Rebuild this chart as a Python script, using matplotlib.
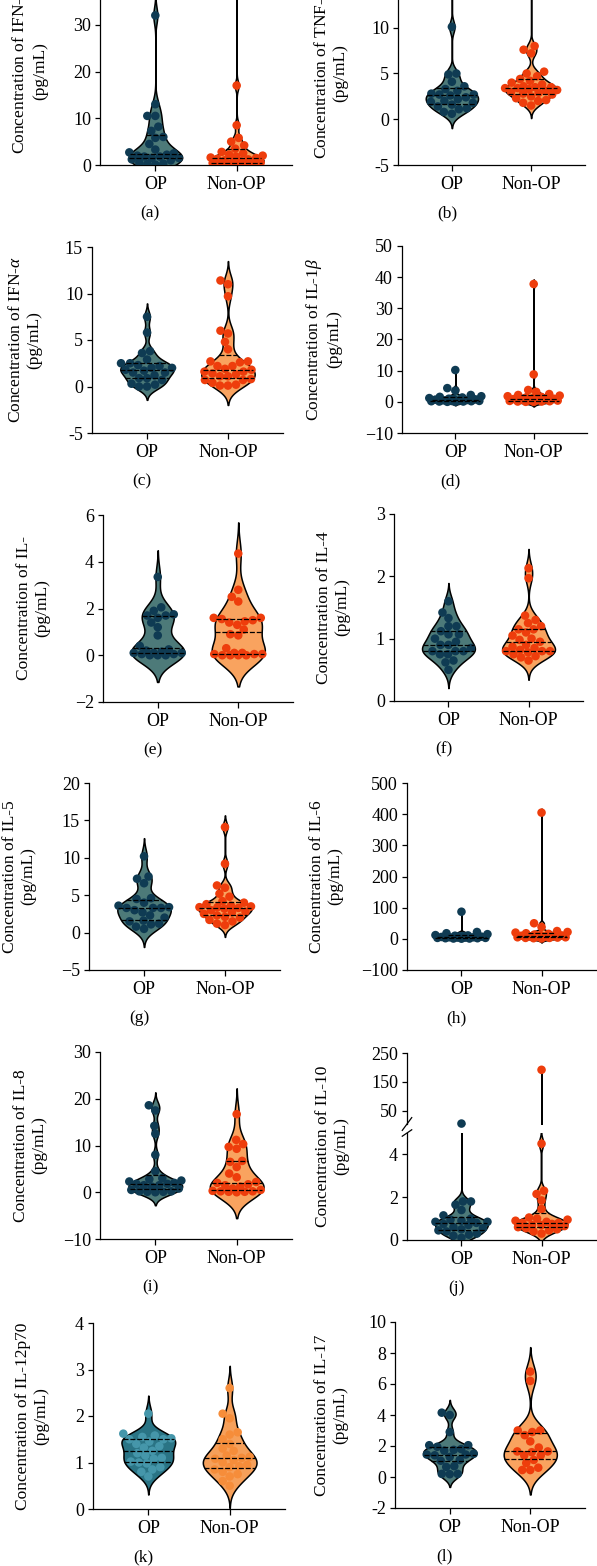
import matplotlib
matplotlib.use('Agg')
import matplotlib.pyplot as plt
import numpy as np

plt.rcParams['font.family'] = 'Liberation Serif'
plt.rcParams['mathtext.fontset'] = 'custom'
plt.rcParams['mathtext.rm'] = 'Liberation Serif'
plt.rcParams['mathtext.it'] = 'Liberation Serif:italic'
plt.rcParams['font.size'] = 13

groups = ['OP', 'Non-OP']

# values (pg/mL)
ifng_op = [32, 13, 10.5, 10.5, 8.2, 7.3, 6.0, 5.8, 4.5, 3.3, 2.7, 2.5, 2.2, 2.0, 1.8, 1.8,
           1.5, 1.5, 1.2, 1.0, 0.5, 0.3, 0.2, 0.1]
ifng_non = [80, 17, 8.5, 5.8, 5.0, 4.2, 3.5, 2.8, 2.5, 2.2, 2.0, 1.8, 1.6, 1.5, 1.3, 1.2,
            1.0, 0.8, 0.6, 0.5, 0.4, 0.3, 0.2, 0.1, 0.1, 0.05]
tnfa_op = [30, 10.1, 5.0, 4.9, 4.1, 3.6, 3.3, 3.1, 2.8, 2.7, 2.7, 2.6, 2.4, 2.2, 2.0, 1.9,
           1.8, 1.6, 1.4, 1.2, 1.1, 0.8, 0.6]
tnfa_non = [25, 8.0, 7.6, 7.2, 5.2, 5.0, 4.7, 4.4, 4.2, 4.0, 3.8, 3.6, 3.5, 3.5, 3.4, 3.4,
            3.3, 3.2, 3.1, 3.0, 2.9, 2.8, 2.7, 2.5, 2.3, 2.1, 2.0, 1.8, 1.5]
ifna_op = [7.5, 5.8, 3.8, 3.6, 2.9, 2.5, 2.5, 2.3, 2.2, 2.0, 2.0, 1.8, 1.7, 1.5, 1.5, 1.2,
           0.9, 0.9, 0.7, 0.3, 0.2, 0.0, 0.0]
ifna_non = [11.4, 11.0, 9.7, 6.0, 5.7, 4.8, 4.0, 2.7, 2.7, 2.6, 2.2, 2.2, 1.9, 1.8, 1.6, 1.6,
            1.4, 1.3, 1.1, 1.1, 0.8, 0.7, 0.7, 0.4, 0.2, 0.1, 0.1]
il1b_op = [10.2, 4.4, 3.6, 2.2, 1.8, 1.6, 1.4, 1.2, 1.0, 0.9, 0.8, 0.7, 0.6, 0.5, 0.4, 0.3,
           0.3, 0.2, 0.2, 0.1, 0.1, 0.0, 0.0]
il1b_non = [37.8, 8.8, 3.8, 3.2, 2.5, 2.2, 2.0, 1.8, 1.6, 1.4, 1.2, 1.0, 0.9, 0.8, 0.7, 0.6,
            0.5, 0.4, 0.3, 0.2, 0.1, 0.1, 0.0, 0.0]
il2_op = [3.35, 2.05, 1.9, 1.75, 1.7, 1.7, 1.6, 1.4, 1.2, 0.85, 0.4, 0.25, 0.2, 0.15, 0.1,
          0.1, 0.1, 0.05, 0.05, 0.0, 0.0, 0.0]
il2_non = [4.35, 2.8, 2.5, 2.3, 1.6, 1.6, 1.55, 1.5, 1.45, 1.4, 1.3, 1.1, 0.9, 0.85, 0.3,
           0.1, 0.1, 0.05, 0.05, 0.05, 0.0, 0.0, 0.0, 0.0]
il4_op = [1.6, 1.42, 1.33, 1.2, 1.2, 1.12, 1.07, 1.07, 1.0, 0.95, 0.9, 0.9, 0.85, 0.8, 0.8,
          0.8, 0.75, 0.75, 0.65, 0.62, 0.5]
il4_non = [2.13, 1.97, 1.37, 1.3, 1.25, 1.2, 1.15, 1.15, 1.1, 1.05, 1.0, 0.98, 0.95, 0.9,
           0.87, 0.85, 0.82, 0.8, 0.8, 0.8, 0.78, 0.75, 0.72, 0.7, 0.65]
il5_op = [10.2, 7.5, 7.2, 6.6, 4.6, 4.5, 4.0, 3.6, 3.4, 3.3, 3.3, 3.3, 3.0, 2.7, 2.3, 2.0,
          1.6, 1.5, 1.2, 1.1, 0.8, 0.5]
il5_non = [14.1, 9.2, 6.3, 6.0, 5.2, 4.8, 4.2, 4.0, 3.8, 3.6, 3.5, 3.4, 3.4, 3.3, 3.2, 3.0,
           2.8, 2.7, 2.5, 2.3, 2.1, 2.0, 1.7, 1.5, 1.2, 1.0]
il6_op = [87, 22, 18, 15, 12, 11, 10, 9, 8, 7, 6, 5, 5, 4, 4, 3, 3, 2, 2, 1, 1, 0.5]
il6_non = [405, 50, 38, 25, 22, 20, 18, 16, 14, 12, 11, 10, 9, 8, 7, 6, 5, 5, 4, 3, 3, 2, 1]
il8_op = [18.6, 17.5, 14.2, 12.5, 8.0, 4.5, 3.0, 2.8, 2.5, 2.3, 2.0, 1.8, 1.8, 1.5, 1.5,
          1.2, 0.8, 0.5, 0.2, 0.2, 0.1, 0.1, 0.0]
il8_non = [16.7, 11.2, 10.3, 9.7, 9.3, 6.7, 6.5, 5.4, 4.0, 3.2, 2.2, 2.0, 1.7, 1.5, 1.2,
           0.8, 0.5, 0.3, 0.2, 0.2, 0.1, 0.1, 0.0]
il10_op = [6.5, 1.8, 1.8, 1.65, 1.4, 1.15, 1.0, 0.95, 0.9, 0.85, 0.85, 0.8, 0.75, 0.7, 0.6,
           0.55, 0.5, 0.45, 0.4, 0.3, 0.25, 0.2, 0.1]
il10_non = [192, 4.5, 2.3, 2.15, 1.85, 1.45, 1.05, 1.0, 0.95, 0.9, 0.85, 0.8, 0.8, 0.75,
            0.7, 0.7, 0.65, 0.6, 0.55, 0.5, 0.45, 0.4, 0.3]
il12_op = [2.05, 1.62, 1.58, 1.55, 1.52, 1.5, 1.5, 1.45, 1.4, 1.35, 1.32, 1.25, 1.2, 1.15,
           1.1, 1.08, 1.02, 1.0, 0.98, 0.9, 0.85, 0.8, 0.7]
il12_non = [2.6, 2.05, 1.95, 1.65, 1.6, 1.5, 1.4, 1.3, 1.25, 1.15, 1.12, 1.1, 1.08, 1.05,
            1.0, 0.95, 0.92, 0.9, 0.85, 0.8, 0.75, 0.7, 0.6, 0.5]
il17_op = [4.15, 4.0, 2.9, 2.05, 2.05, 1.95, 1.8, 1.75, 1.7, 1.5, 1.45, 1.45, 1.4, 1.3, 1.1,
           1.05, 0.7, 0.65, 0.2, 0.2, 0.18]
il17_non = [6.8, 6.2, 3.0, 3.0, 2.9, 2.7, 2.3, 1.9, 1.65, 1.65, 1.6, 1.4, 1.4, 1.1, 0.9,
            0.6, 0.45, 0.45]

cytokines = ['IFN-$\\gamma$', 'TNF-$\\alpha$', 'IFN-$\\alpha$', 'IL-1$\\beta$', 'IL-', 'IL-4',
             'IL-5', 'IL-6', 'IL-8', 'IL-10', 'IL-12p70', 'IL-17']
letters = ['(a)', '(b)', '(c)', '(d)', '(e)', '(f)', '(g)', '(h)', '(i)', '(j)', '(k)', '(l)']
ylims = [(0, 40), (-5, 15), (-5, 15), (-10, 50), (-2, 6), (0, 3), (-5, 20), (-100, 500),
         (-10, 30), None, (0, 4), (-2, 10)]
yticks = [[0, 10, 20, 30], [-5, 0, 5, 10], [-5, 0, 5, 10, 15], [-10, 0, 10, 20, 30, 40, 50],
          [-2, 0, 2, 4, 6], [0, 1, 2, 3], [-5, 0, 5, 10, 15, 20], [-100, 0, 100, 200, 300, 400, 500],
          [-10, 0, 10, 20, 30], None, [0, 1, 2, 3, 4], [-2, 0, 2, 4, 6, 8, 10]]
il10_low_ticks = [0, 2, 4]
il10_high_ticks = [50, 150, 250]

data = [(ifng_op, ifng_non), (tnfa_op, tnfa_non), (ifna_op, ifna_non), (il1b_op, il1b_non),
        (il2_op, il2_non), (il4_op, il4_non), (il5_op, il5_non), (il6_op, il6_non),
        (il8_op, il8_non), (il10_op, il10_non), (il12_op, il12_non), (il17_op, il17_non)]

# layout in pixels: left spine, right end, y of bottom, y of top
boxes = [(100, 292, 165, -22), (398, 585, 165, -18), (92, 283, 433, 247), (402, 587, 433, 246),
         (103, 293, 702, 515), (394, 583, 701, 514), (89, 280, 970, 783), (407, 596, 970, 783),
         (100, 292, 1239, 1052), (407, 596, 1240, 1053), (93, 285, 1509, 1323), (395, 585, 1508, 1322)]
label_dist = [52, 50, 50, 60, 53, 44, 53, 64, 53, 58, 44, 47]
short_minus = [False, True, True, False, False, False, False, False, False, False, False, True]

op_face, op_dot = '#4d7a79', '#0f3b53'
non_face, non_dot = '#f9a35f', '#ee3d0c'
k_op_face, k_op_dot = '#2a7485', '#4596aa'
k_non_face, k_non_dot = '#f6a05a', '#f68d3a'

W, H = 597, 1566
XLIM = (-0.68, 1.68)
HALF_W = 0.33
DOT_S = 38
DOT_PX = 8.0
SWARM_MAX = 26

fig = plt.figure(figsize=(W / 100, H / 100), dpi=100)


def make_ax(left, right, ybot, ytop):
    return fig.add_axes([left / W, 1 - ybot / H, (right - left) / W, (ybot - ytop) / H])


def kde(vals):
    v = np.asarray(vals, float)
    q75, q25 = np.percentile(v, [75, 25])
    sig = min(v.std(ddof=1), (q75 - q25) / 1.34)
    bw = 0.9 * sig * len(v) ** -0.2
    ys = np.linspace(v.min() - 2.5 * bw, v.max() + 2.5 * bw, 3000)
    dens = np.exp(-0.5 * ((ys[:, None] - v[None, :]) / bw) ** 2).sum(axis=1)
    return ys, dens / dens.max()


def swarm(vals, px_y, px_x):
    # simple beeswarm in pixel space, kept inside +-SWARM_MAX px
    v = np.asarray(vals, float)
    grid = np.arange(-SWARM_MAX, SWARM_MAX + 0.25, 0.5)
    offs = np.zeros(len(v))
    px, py = [], []
    for i in np.argsort(v):
        y = v[i] * px_y
        if not px:
            c = 0.0
        else:
            d = np.sqrt((grid[:, None] - np.array(px)[None, :]) ** 2
                        + (y - np.array(py)[None, :]) ** 2).min(axis=1)
            ok = d >= DOT_PX
            if ok.any():
                cand = grid[ok]
                c = cand[np.argmin(np.abs(cand))]
            else:
                c = grid[np.argmax(d - 0.001 * np.abs(grid))]
        px.append(c)
        py.append(y)
        offs[i] = c / px_x
    return offs


def draw_group(ax, x, vals, face, dot, px_y, px_x, points=True, qlines=True, ymin=None):
    ys, dens = kde(vals)
    w = dens * HALF_W
    if ymin is not None:
        keep = ys >= ymin
        ys, w = ys[keep], w[keep]
    ax.fill_betweenx(ys, x - w, x + w, facecolor=face, edgecolor='black', lw=1.1, zorder=1)
    if qlines:
        for q in np.percentile(vals, [25, 50, 75]):
            hw = np.interp(q, ys, w)
            ax.plot([x - hw, x + hw], [q, q], color='black', lw=0.9, ls=(0, (4, 1.5)), zorder=4)
    if points:
        offs = swarm(vals, px_y, px_x)
        ax.scatter(x + offs, vals, s=DOT_S, color=dot, edgecolors='none', zorder=3)


def style_ax(ax, ticks, lim, short):
    for s in ['top', 'right']:
        ax.spines[s].set_visible(False)
    for s in ['left', 'bottom']:
        ax.spines[s].set_linewidth(0.9)
    ax.set_xlim(*XLIM)
    ax.set_xticks([0, 1])
    ax.set_xticklabels(groups)
    ax.tick_params(axis='x', length=4, width=0.9, pad=4)
    ax.tick_params(axis='y', length=3.5, width=0.9, pad=3)
    minus = '-' if short else '\u2212'
    ax.set_yticks(ticks)
    ax.set_yticklabels([(minus + str(abs(t))) if t < 0 else str(t) for t in ticks])
    ax.set_ylim(*lim)


for k in range(12):
    left, right, ybot, ytop = boxes[k]
    op, non = data[k]
    if k == 10:
        cols = [(k_op_face, k_op_dot), (k_non_face, k_non_dot)]
    else:
        cols = [(op_face, op_dot), (non_face, non_dot)]
    px_x = (right - left) / (XLIM[1] - XLIM[0])
    label = 'Concentration of ' + cytokines[k] + '\n(pg/mL)'

    if k != 9:
        ax = make_ax(left, right, ybot, ytop)
        lim = ylims[k]
        px_y = (ybot - ytop) / (lim[1] - lim[0])
        for x, vals, (fc, dc) in zip([0, 1], [op, non], cols):
            draw_group(ax, x, vals, fc, dc, px_y, px_x)
        style_ax(ax, yticks[k], lim, short_minus[k])
        ax.set_ylabel(label, linespacing=1.2, fontsize=12.5)
        ax.yaxis.set_label_coords(-label_dist[k] / (right - left), 0.5)
    else:
        # broken axis for IL-10: 0-5 below, 5-250 compressed above
        low_top, high_bot = 1133, 1124
        axl = make_ax(left, right, ybot, low_top)
        axh = make_ax(left, right, high_bot, ytop)
        px_y = (ybot - low_top) / 5.0
        for x, vals, (fc, dc) in zip([0, 1], [op, non], cols):
            v = np.asarray(vals, float)
            draw_group(axl, x, vals, fc, dc, px_y, px_x, points=False)
            draw_group(axh, x, vals, fc, dc, px_y, px_x, points=False, qlines=False, ymin=5)
            lo = v[v <= 5]
            offs = swarm(lo, px_y, px_x)
            axl.scatter(x + offs, lo, s=DOT_S, color=dc, edgecolors='none', zorder=3)
            hi = v[v > 5]
            axh.scatter(np.full(len(hi), x), hi, s=DOT_S, color=dc, edgecolors='none',
                        zorder=3, clip_on=False)
        style_ax(axl, il10_low_ticks, (0, 5), False)
        axh.set_ylim(5, 250)
        axh.set_xlim(*XLIM)
        for s in ['top', 'right', 'bottom']:
            axh.spines[s].set_visible(False)
        axh.spines['left'].set_linewidth(0.9)
        axh.set_xticks([])
        axh.set_yticks(il10_high_ticks)
        axh.tick_params(axis='y', length=3.5, width=0.9, pad=3)
        # break marks on the left spine
        axl.plot([-0.025, 0.025], [0.97, 1.03], transform=axl.transAxes, color='black',
                 lw=0.9, clip_on=False)
        axh.plot([-0.025, 0.025], [-0.09, 0.09], transform=axh.transAxes, color='black',
                 lw=0.9, clip_on=False)
        ycen = (ybot - (ytop + ybot) / 2) / (ybot - low_top)
        axl.set_ylabel(label, linespacing=1.2, fontsize=12.5)
        axl.yaxis.set_label_coords(-label_dist[k] / (right - left), ycen)

    op_px = left + (0 - XLIM[0]) * px_x
    fig.text((op_px - 5) / W, 1 - (ybot + 48) / H, letters[k], ha='center', va='center',
             fontsize=12.5)

fig.savefig('out.png', dpi=100)
